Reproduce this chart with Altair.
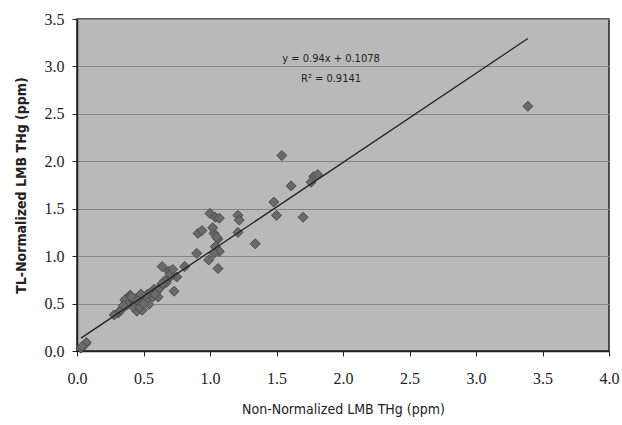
import altair as alt
import pandas as pd

x_vals = [3.39, 1.54, 1.61, 1.78, 1.76, 1.81, 1.48, 1.50, 1.70, 1.21, 1.22, 1.21, 1.34,
          1.00, 1.04, 1.07, 0.91, 0.94, 1.03, 1.06, 1.04, 1.07, 1.03, 0.90, 0.99, 1.06,
          0.81, 0.75, 0.64, 0.69, 0.70, 0.73, 0.67, 0.63, 0.60, 0.55, 0.51, 0.48, 0.43,
          0.40, 0.37, 0.34, 0.31, 0.28, 0.45, 0.49, 0.54, 0.46, 0.52, 0.57, 0.58, 0.61,
          0.39, 0.36, 0.03, 0.06, 0.07, 0.04,
          0.42, 0.47, 0.50, 0.44, 0.38, 0.33, 0.53, 0.56, 0.62, 0.66, 0.59, 0.41, 0.35,
          0.48, 0.64, 0.70, 0.72, 1.02, 1.05]
y_vals = [2.58, 2.06, 1.74, 1.84, 1.78, 1.86, 1.57, 1.43, 1.41, 1.43, 1.38, 1.25, 1.13,
          1.45, 1.41, 1.40, 1.24, 1.27, 1.24, 1.18, 1.10, 1.05, 1.03, 1.03, 0.96, 0.87,
          0.89, 0.78, 0.89, 0.84, 0.78, 0.63, 0.72, 0.68, 0.63, 0.61, 0.57, 0.54, 0.52,
          0.59, 0.51, 0.45, 0.40, 0.38, 0.42, 0.43, 0.49, 0.49, 0.54, 0.57, 0.65, 0.57,
          0.56, 0.54, 0.03, 0.07, 0.09, 0.05,
          0.47, 0.46, 0.50, 0.55, 0.49, 0.43, 0.60, 0.62, 0.66, 0.74, 0.60, 0.57, 0.48,
          0.60, 0.71, 0.81, 0.86, 1.30, 1.20]
slope = 0.94
intercept = 0.1078
fit_x = [0.03, 3.39]
eq_lines = ["y = 0.94x + 0.1078", "R² = 0.9141"]
eq_y = [3.08, 2.87]
eq_x = 1.91

pts = pd.DataFrame({"x": x_vals, "y": y_vals})
fit = pd.DataFrame({"x": fit_x, "y": [slope * v + intercept for v in fit_x]})
eq = pd.DataFrame({"x": [eq_x] * 2, "y": eq_y, "t": eq_lines})

xs = alt.Scale(domain=[0, 4], nice=False, zero=False)
ys = alt.Scale(domain=[0, 3.5], nice=False, zero=False)

xax = alt.Axis(title="Non-Normalized LMB THg (ppm)", values=[0, 0.5, 1, 1.5, 2, 2.5, 3, 3.5, 4],
               format=".1f", grid=False, domain=True, domainColor="#222", domainWidth=1.5,
               ticks=True, tickColor="#222", tickSize=5, labelFont="Liberation Serif",
               labelFontSize=16, labelColor="#222", labelPadding=14, labelFlush=False,
               titleFont="DejaVu Sans Condensed", titleFontSize=14, titleFontWeight="normal",
               titleColor="#222", titlePadding=16)
yax = alt.Axis(title="TL-Normalized LMB THg (ppm)", values=[0, 0.5, 1, 1.5, 2, 2.5, 3, 3.5],
               format=".1f", grid=True, gridColor="#858585", gridWidth=1,
               domain=True, domainColor="#222", domainWidth=1.5,
               ticks=True, tickColor="#222", tickSize=5, labelFont="Liberation Serif",
               labelFontSize=16, labelColor="#222", labelPadding=8, labelFlush=False,
               titleFont="DejaVu Sans Condensed", titleFontSize=14, titleFontWeight="bold",
               titleColor="#222", titlePadding=16)

points = alt.Chart(pts).mark_point(shape="diamond", filled=True, size=100, color="#6a6a6a",
                                   stroke="#4a4a4a", strokeWidth=1, opacity=1).encode(
    x=alt.X("x:Q", scale=xs, axis=xax),
    y=alt.Y("y:Q", scale=ys, axis=yax),
)
line = alt.Chart(fit).mark_line(color="#222", strokeWidth=1.3).encode(
    x=alt.X("x:Q", scale=xs), y=alt.Y("y:Q", scale=ys))
text = alt.Chart(eq).mark_text(font="DejaVu Sans Condensed", fontSize=11, color="#222").encode(
    x=alt.X("x:Q", scale=xs), y=alt.Y("y:Q", scale=ys), text="t:N")

chart = alt.layer(points, line, text).properties(
    width=532, height=332,
    autosize=alt.AutoSizeParams(type="none"),
    padding={"left": 77, "top": 19, "right": 13, "bottom": 74},
    background="white",
).configure_view(fill="#b9b9b9", stroke="#222", strokeWidth=1.5)

chart.save("out.html", embed_options={"renderer": "svg", "actions": False})
